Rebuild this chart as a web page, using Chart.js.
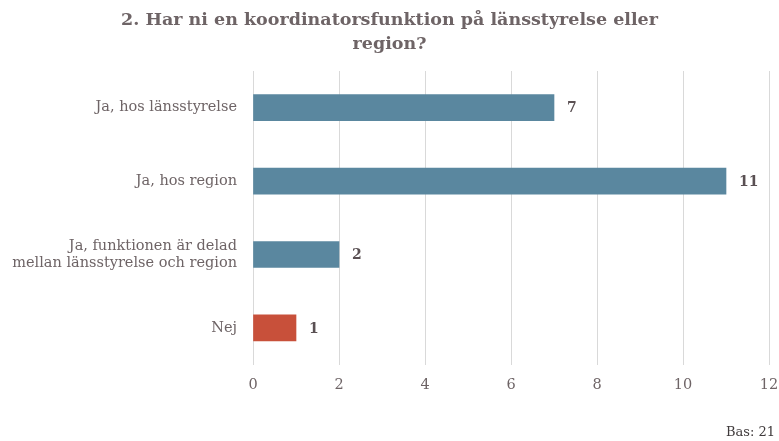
<!DOCTYPE html>
<html>
<head>
<meta charset="utf-8">
<script src="https://cdn.jsdelivr.net/npm/chart.js@4.4.1/dist/chart.umd.min.js"></script>
<style>
  body { margin: 0; background: #fff; }
  #wrap { position: relative; width: 779px; height: 441px; }
  #bas { position: absolute; right: 4px; bottom: 2px; font: 13px "DejaVu Serif", serif; color: #3f3a3b; }
</style>
</head>
<body>
<div id="wrap">
  <canvas id="chart" width="779" height="441"></canvas>
  <div id="bas">Bas: 21</div>
</div>
<script>
const categories = [
  "Ja, hos länsstyrelse",
  "Ja, hos region",
  ["Ja, funktionen är delad", "mellan länsstyrelse och region"],
  "Nej"
];
const values = [7, 11, 2, 1];
const barColors = ["#5a879f", "#5a879f", "#5a879f", "#c8503a"];
const xTicks = [0, 2, 4, 6, 8, 10, 12];

const serif = "'DejaVu Serif', Georgia, serif";
const textColor = "#6e6466";

// skriver värdet till höger om varje stapel
const valueLabels = {
  id: "valueLabels",
  afterDatasetsDraw(chart) {
    const { ctx } = chart;
    const meta = chart.getDatasetMeta(0);
    ctx.save();
    ctx.font = "bold 14px " + serif;
    ctx.fillStyle = "#5a5053";
    ctx.textBaseline = "middle";
    meta.data.forEach((bar, i) => {
      ctx.fillText(String(values[i]), bar.x + 13, bar.y + 1);
    });
    ctx.restore();
  }
};

new Chart(document.getElementById("chart"), {
  type: "bar",
  data: {
    labels: categories,
    datasets: [{
      data: values,
      backgroundColor: barColors,
      barThickness: 26
    }]
  },
  options: {
    indexAxis: "y",
    responsive: false,
    animation: false,
    layout: { padding: { left: 0, right: 0, top: 0, bottom: 35 } },
    plugins: {
      legend: { display: false },
      tooltip: { enabled: false },
      title: {
        display: true,
        text: ["2. Har ni en koordinatorsfunktion på länsstyrelse eller", "region?"],
        color: "#6e6466",
        font: { family: serif, size: 17.5, weight: "bold", lineHeight: 1.4 },
        padding: { top: 8, bottom: 14 }
      }
    },
    scales: {
      x: {
        min: 0,
        max: 12,
        afterBuildTicks: (scale) => { scale.ticks = xTicks.map(v => ({ value: v })); },
        afterFit: (scale) => { scale.paddingRight = 10; },
        grid: { color: "#d9d9d9", drawTicks: false },
        border: { display: false },
        ticks: { color: textColor, padding: 12, font: { family: serif, size: 14.5 } }
      },
      y: {
        grid: { display: false },
        border: { display: false },
        afterFit: (scale) => { scale.width = 253; },
        ticks: { color: textColor, padding: 8, font: { family: serif, size: 14.5 } }
      }
    }
  },
  plugins: [valueLabels]
});
</script>
</body>
</html>
